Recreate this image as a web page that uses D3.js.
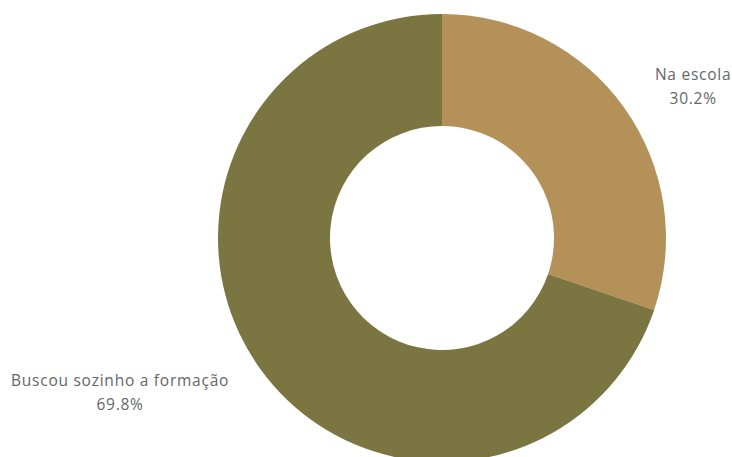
<!DOCTYPE html>
<html>
<head>
<meta charset="utf-8">
<script src="https://cdn.jsdelivr.net/npm/d3@7"></script>
<style>
  html, body { margin: 0; padding: 0; background: #ffffff; }
  svg { display: block; }
  .lbl { font-family: "Open Sans", sans-serif; font-size: 15.5px; letter-spacing: 0.75px; fill: #666666; }
</style>
</head>
<body>
<svg id="chart" width="732" height="457"></svg>
<script>
// Shares of how teachers obtained their training
const categories = ["Na escola", "Buscou sozinho a formação"];
const values = [30.2, 69.8];
const valueLabels = ["30.2%", "69.8%"];
const colors = ["#b39159", "#7b7541"];

const width = 732, height = 457;
const cx = 442, cy = 238;
const outerR = 224, innerR = 112;

const svg = d3.select("#chart");
const g = svg.append("g").attr("transform", `translate(${cx},${cy})`);

const pie = d3.pie().sort(null).value(d => d.value);
const arcs = pie(categories.map((c, i) => ({ name: c, value: values[i], label: valueLabels[i], color: colors[i] })));

const arc = d3.arc().innerRadius(innerR).outerRadius(outerR);
const labelArc = d3.arc().innerRadius(262).outerRadius(262);

g.selectAll("path.slice")
  .data(arcs)
  .join("path")
  .attr("class", "slice")
  .attr("d", arc)
  .attr("fill", d => d.data.color);

// Two-line labels outside the ring, aligned toward the slice
const labels = g.selectAll("g.label")
  .data(arcs)
  .join("g")
  .attr("class", "label");

labels.each(function(d) {
  const [px, py] = labelArc.centroid(d);
  const mid = (d.startAngle + d.endAngle) / 2;
  const right = mid < Math.PI;
  const grp = d3.select(this);
  const t1 = grp.append("text").attr("class", "lbl").attr("text-anchor", "middle")
    .attr("y", py - 5).text(d.data.name);
  const t2 = grp.append("text").attr("class", "lbl").attr("text-anchor", "middle")
    .attr("y", py + 19).text(d.data.label);
  const w = Math.max(t1.node().getComputedTextLength(), t2.node().getComputedTextLength());
  const x = right ? px + w / 2 : px - w / 2;
  t1.attr("x", x);
  t2.attr("x", x);
});
</script>
</body>
</html>
